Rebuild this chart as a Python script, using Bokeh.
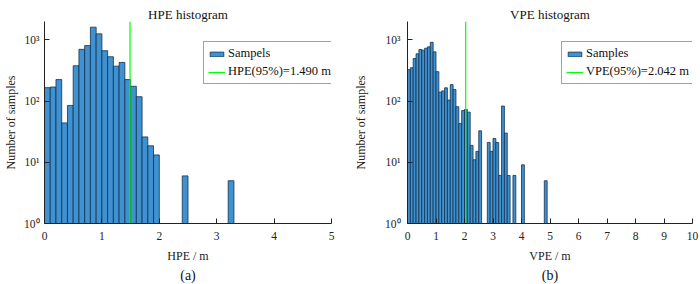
from bokeh.plotting import figure
from bokeh.layouts import row
from bokeh.models import Range1d, FixedTicker, Legend, LegendItem, Title
from bokeh.embed import file_html
from bokeh.resources import INLINE

# ---------------- data ----------------
bin_width = 0.1

hpe_bin_left = [0.0, 0.1, 0.2, 0.3, 0.4, 0.5, 0.6, 0.7, 0.8, 0.9,
                1.0, 1.1, 1.2, 1.3, 1.4, 1.5, 1.6, 1.7, 1.8, 1.9,
                2.4, 3.2]
hpe_counts = [166, 170, 225, 44, 85, 378, 701, 807, 1617, 1256,
              667, 531, 373, 428, 225, 175, 118, 26, 18.6, 13.2,
              6, 5]
hpe95 = 1.490

vpe_bin_left = [0.0, 0.1, 0.2, 0.3, 0.4, 0.5, 0.6, 0.7, 0.8, 0.9,
                1.0, 1.1, 1.2, 1.3, 1.4, 1.5, 1.6, 1.7, 1.8, 1.9,
                2.0, 2.1, 2.2, 2.3, 2.4, 2.5,
                2.8, 2.9, 3.0, 3.1, 3.2, 3.3, 3.4, 3.5,
                3.7, 4.0, 4.8]
vpe_counts = [327, 351, 497, 593, 697, 680, 732, 770, 916, 638,
              303, 140, 147, 165, 104, 186, 155, 81, 43, 70,
              73, 66, 18.9, 11.0, 15.1, 32.7,
              21.1, 15.1, 24.5, 21.1, 6.1, 83, 30, 6.1,
              6.1, 9.1, 5.0]
vpe95 = 2.042

y_ticks = [1, 10, 100, 1000]
y_tick_labels = ["10\u2070", "10\u00b9", "10\u00b2", "10\u00b3"]
hpe_x_ticks = [0, 1, 2, 3, 4, 5]
vpe_x_ticks = [0, 1, 2, 3, 4, 5, 6, 7, 8, 9, 10]
y_min, y_max = 1, 2000

FONT = "'Liberation Serif', 'Times New Roman', serif"
BAR_FILL = "#3f92d2"
BAR_LINE = "#15304d"
GREEN = "#00ff00"


def make_panel(title, xlabel, sub, lefts, counts, p95, qlabel, bar_label,
               x_max, x_ticks, width, border_left, border_right,
               ytick_standoff, ylabel_standoff, leg_loc):
    p = figure(width=width, height=284, y_axis_type="log",
               x_range=Range1d(0, x_max), y_range=Range1d(y_min, y_max),
               output_backend="svg", toolbar_location=None,
               min_border_left=border_left, min_border_right=border_right,
               min_border_top=21, min_border_bottom=61)
    p.outline_line_color = None
    p.xgrid.visible = False
    p.ygrid.visible = False
    p.background_fill_color = "white"
    p.border_fill_color = "white"

    rights = [l + bin_width for l in lefts]
    bars = p.quad(left=lefts, right=rights, top=counts, bottom=y_min,
                  fill_color=BAR_FILL, line_color=BAR_LINE, line_width=0.8)
    ln = p.line(x=[p95, p95], y=[y_min, y_max], line_color=GREEN, line_width=1.2)

    p.title.text = title
    p.title.align = "center"
    p.title.text_font = FONT
    p.title.text_font_style = "normal"
    p.title.text_font_size = "13px"
    p.title.text_color = "#111111"
    p.title.standoff = 0

    for ax in (p.xaxis[0], p.yaxis[0]):
        ax.major_label_text_font = FONT
        ax.major_label_text_font_size = "11.5px"
        ax.major_label_text_color = "#222222"
        ax.axis_label_text_font = FONT
        ax.axis_label_text_font_size = "12px"
        ax.axis_label_text_font_style = "normal"
        ax.axis_label_text_color = "#222222"
        ax.major_tick_in = 5
        ax.major_tick_out = 0
        ax.minor_tick_in = 0
        ax.minor_tick_out = 0
        ax.axis_line_color = "#222222"
        ax.major_tick_line_color = "#222222"

    p.xaxis.ticker = FixedTicker(ticks=x_ticks, minor_ticks=[])
    p.xaxis.axis_label = xlabel
    p.xaxis.major_label_standoff = 8
    p.xaxis.axis_label_standoff = 6

    p.yaxis.ticker = FixedTicker(ticks=y_ticks, minor_ticks=[])
    p.yaxis.major_label_overrides = {t: s for t, s in zip(y_ticks, y_tick_labels)}
    p.yaxis.axis_label = "Number of samples"
    p.yaxis.major_label_standoff = ytick_standoff
    p.yaxis.axis_label_standoff = ylabel_standoff

    legend = Legend(items=[LegendItem(label=bar_label, renderers=[bars]),
                           LegendItem(label=qlabel, renderers=[ln])],
                    location=leg_loc)
    legend.label_text_font = FONT
    legend.label_text_font_size = "12.5px"
    legend.label_text_color = "#111111"
    legend.glyph_width = 17
    legend.glyph_height = 6
    legend.label_height = 14
    legend.label_standoff = 3
    legend.spacing = 3
    legend.padding = 4
    legend.margin = 0
    legend.border_line_color = "#444444"
    legend.border_line_width = 1
    legend.background_fill_alpha = 1
    p.add_layout(legend, "center")

    p.add_layout(Title(text=sub, align="center", text_font=FONT,
                       text_font_size="14px", text_font_style="normal",
                       text_color="#111111", standoff=0), "below")
    return p


p1 = make_panel("HPE histogram", "HPE / m", "(a)", hpe_bin_left, hpe_counts,
                hpe95, "HPE(95%)=1.490 m", "Sampels", 5, hpe_x_ticks,
                width=350, border_left=44, border_right=19,
                ytick_standoff=5, ylabel_standoff=3, leg_loc=(159, 139))
p2 = make_panel("VPE histogram", "VPE / m", "(b)", vpe_bin_left, vpe_counts,
                vpe95, "VPE(95%)=2.042 m", "Samples", 10, vpe_x_ticks,
                width=350, border_left=55, border_right=8,
                ytick_standoff=7, ylabel_standoff=14, leg_loc=(154, 139))

layout = row(p1, p2)
open("out.html", "w").write(file_html(layout, INLINE))
